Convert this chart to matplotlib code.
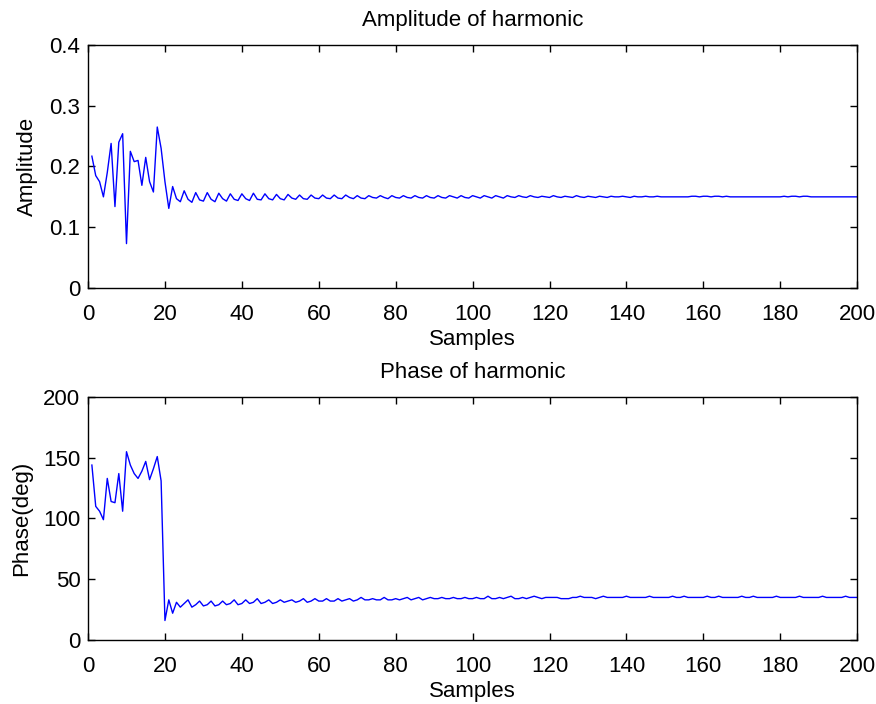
import numpy as np
import matplotlib
matplotlib.use("Agg")
import matplotlib.pyplot as plt

plt.rcParams['font.family'] = ['Liberation Sans', 'DejaVu Sans']

# amplitude of harmonic, samples 1..200
amp = [0.217, 0.185, 0.175, 0.150, 0.190, 0.238, 0.134, 0.240, 0.254, 0.073,
       0.225, 0.208, 0.210, 0.169, 0.215, 0.175, 0.158, 0.265, 0.230, 0.175,
       0.131,
       0.167, 0.147, 0.142, 0.160, 0.146, 0.141, 0.157, 0.145, 0.143,
       0.157, 0.146, 0.142, 0.156, 0.147, 0.143, 0.155, 0.146, 0.144,
       0.155, 0.147, 0.144, 0.156, 0.146, 0.145, 0.155, 0.147, 0.145,
       0.154, 0.147, 0.145, 0.154, 0.148, 0.146, 0.153, 0.147, 0.146,
       0.153, 0.148, 0.147, 0.153, 0.148, 0.147, 0.153, 0.148, 0.147,
       0.153, 0.149, 0.147, 0.152, 0.148, 0.147, 0.152, 0.149, 0.148,
       0.152, 0.149, 0.147, 0.152, 0.149, 0.148, 0.152, 0.149, 0.148,
       0.152, 0.149, 0.148, 0.152, 0.149, 0.148, 0.152, 0.149, 0.148,
       0.152, 0.150, 0.148, 0.152, 0.149, 0.148, 0.152, 0.150, 0.148,
       0.152, 0.150, 0.148, 0.152, 0.150, 0.148, 0.152, 0.150, 0.149,
       0.152, 0.150, 0.149, 0.152, 0.150, 0.149, 0.151, 0.150, 0.149,
       0.152, 0.150, 0.149, 0.151, 0.150, 0.149, 0.152, 0.150, 0.149,
       0.151, 0.150, 0.149, 0.151, 0.150, 0.149, 0.151, 0.150, 0.150,
       0.151, 0.150, 0.149, 0.151, 0.150, 0.150, 0.151, 0.150, 0.150,
       0.151, 0.150, 0.150, 0.150, 0.150, 0.150, 0.150, 0.150, 0.150,
       0.151, 0.151, 0.150, 0.151, 0.151, 0.150, 0.151, 0.151, 0.150,
       0.151, 0.150, 0.150, 0.150, 0.150, 0.150, 0.150, 0.150, 0.150,
       0.150, 0.150, 0.150, 0.150, 0.150, 0.150, 0.151, 0.150, 0.151,
       0.151, 0.150, 0.151, 0.151, 0.150, 0.150, 0.150, 0.150, 0.150,
       0.150, 0.150, 0.150, 0.150, 0.150, 0.150, 0.150, 0.150]

# phase of harmonic (deg), samples 1..200
phase = [144, 110, 106, 99, 133, 114, 113, 137, 106, 155,
         144, 137, 133, 139, 147, 132, 141, 151, 131, 16,
         33,
         22, 31, 27, 30, 33, 27, 29, 32, 28,
         29, 32, 28, 29, 32, 29, 30, 33, 29,
         30, 33, 30, 31, 34, 30, 31, 33, 30,
         31, 33, 31, 32, 33, 31, 32, 34, 31,
         32, 34, 32, 32, 34, 32, 32, 34, 32,
         33, 34, 32, 33, 35, 33, 33, 34, 33,
         33, 35, 33, 33, 34, 33, 34, 35, 33,
         34, 35, 33, 34, 35, 34, 34, 35, 34,
         34, 35, 34, 34, 35, 34, 34, 35, 34,
         34, 36, 34, 34, 35, 34, 35, 36, 34,
         34, 35, 34, 35, 36, 35, 34, 35, 35,
         35, 35, 34, 34, 34, 35, 35, 36, 35,
         35, 35, 34, 35, 36, 35, 35, 35, 35,
         35, 36, 35, 35, 35, 35, 35, 36, 35,
         35, 35, 35, 35, 36, 35, 35, 36, 35,
         35, 35, 35, 35, 36, 35, 35, 36, 35,
         35, 35, 35, 35, 36, 35, 35, 36, 35,
         35, 35, 35, 35, 36, 35, 35, 35, 35,
         35, 36, 35, 35, 35, 35, 35, 36, 35,
         35, 35, 35, 35, 36, 35, 35, 35]

samples = np.arange(1, len(amp) + 1)
xticks = list(range(0, 201, 20))
amp_ticks = [0, 0.1, 0.2, 0.3, 0.4]
amp_labels = ["0", "0.1", "0.2", "0.3", "0.4"]
phase_ticks = [0, 50, 100, 150, 200]

fs = 16

fig = plt.figure(figsize=(8.76, 7.04), dpi=100)
ax1 = fig.add_axes([0.1005, 0.591, 0.878, 0.345])
ax2 = fig.add_axes([0.1005, 0.091, 0.878, 0.345])

ax1.plot(samples, amp, color='#0000ff', lw=1.0)
ax1.set_xlim(0, 200)
ax1.set_ylim(0, 0.4)
ax1.set_yticks(amp_ticks)
ax1.set_yticklabels(amp_labels)
ax1.set_title("Amplitude of harmonic", fontsize=fs, pad=14)
ax1.set_ylabel("Amplitude", fontsize=fs, labelpad=8)
ax1.set_xlabel("Samples", fontsize=fs, labelpad=3)

ax2.plot(samples, phase, color='#0000ff', lw=1.0)
ax2.set_xlim(0, 200)
ax2.set_ylim(0, 200)
ax2.set_yticks(phase_ticks)
ax2.set_title("Phase of harmonic", fontsize=fs, pad=14)
ax2.set_ylabel("Phase(deg)", fontsize=fs, labelpad=8)
ax2.set_xlabel("Samples", fontsize=fs, labelpad=3)

for ax in (ax1, ax2):
    ax.set_xticks(xticks)
    ax.tick_params(direction='in', length=5, width=1, top=True, right=True,
                   labelsize=fs)
    ax.tick_params(axis='x', pad=11.5)
    ax.tick_params(axis='y', pad=5.5)
    for s in ax.spines.values():
        s.set_linewidth(1.0)

fig.savefig("out.png", dpi=100)
